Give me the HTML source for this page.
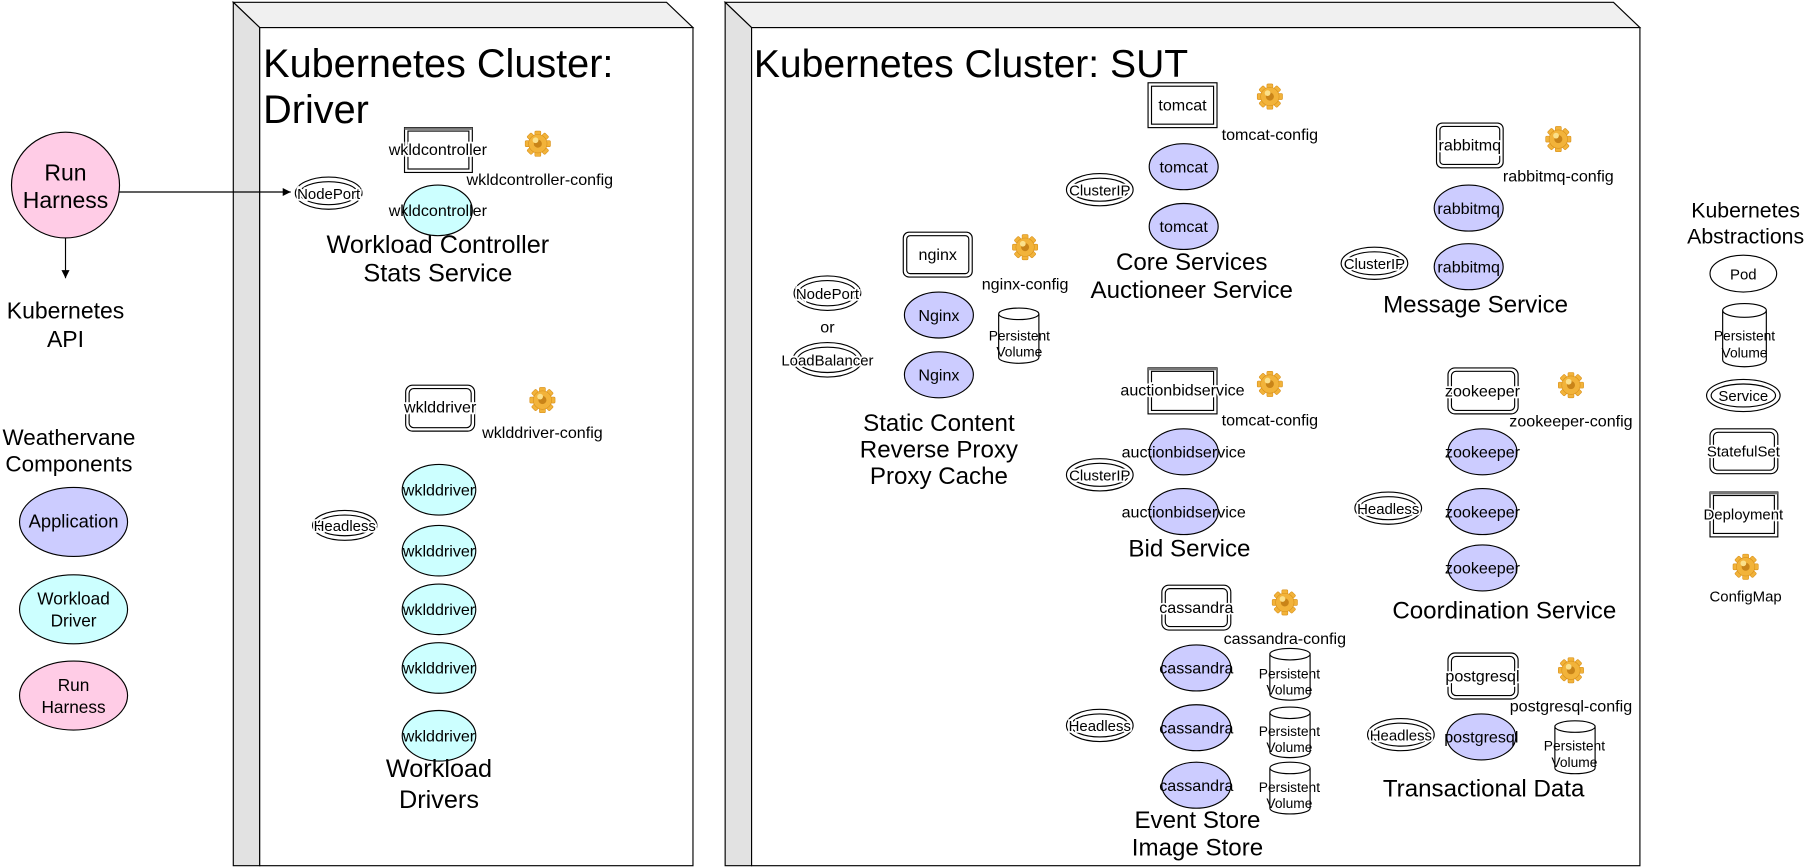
<!DOCTYPE html>
<html><head><meta charset="utf-8"><style>
html,body{margin:0;padding:0;background:#fff;}
svg{display:block;}
text{font-family:"Liberation Sans",Arial,sans-serif;fill:#000;}
.h{stroke:#fff;stroke-width:3;paint-order:stroke;}
</style></head><body>
<svg width="1810" height="868" viewBox="0 0 1575 755" preserveAspectRatio="none" xmlns="http://www.w3.org/2000/svg">
<defs>
<g id="gear">
<g fill="#f2b33a" stroke="#d8901a" stroke-width="0.5">
<rect x="-2.6" y="-11" width="5.2" height="6" rx="1"/>
<rect x="-2.6" y="-11" width="5.2" height="6" rx="1" transform="rotate(45)"/>
<rect x="-2.6" y="-11" width="5.2" height="6" rx="1" transform="rotate(90)"/>
<rect x="-2.6" y="-11" width="5.2" height="6" rx="1" transform="rotate(135)"/>
<rect x="-2.6" y="-11" width="5.2" height="6" rx="1" transform="rotate(180)"/>
<rect x="-2.6" y="-11" width="5.2" height="6" rx="1" transform="rotate(225)"/>
<rect x="-2.6" y="-11" width="5.2" height="6" rx="1" transform="rotate(270)"/>
<rect x="-2.6" y="-11" width="5.2" height="6" rx="1" transform="rotate(315)"/>
<circle r="8"/>
</g>
<circle r="3.5" fill="#c98418"/>
<circle cx="-2" cy="-3" r="2.5" fill="#fbe08a"/>
</g>
<marker id="ar" markerWidth="8" markerHeight="8" refX="7" refY="4" orient="auto" markerUnits="userSpaceOnUse"><path d="M0,0.5 L7,4 L0,7.5 Z" fill="#000"/></marker>
</defs>

<!-- Driver cluster cube -->
<polygon points="203,2 580,2 603,24 226,24" fill="#f0f0f0" stroke="#000" stroke-width="1"/>
<polygon points="203,2 226,24 226,753 203,753" fill="#e2e2e2" stroke="#000" stroke-width="1"/>
<rect x="226" y="24" width="377" height="729" fill="#fff" stroke="#000" stroke-width="1"/>
<!-- SUT cluster cube -->
<polygon points="631,2 1404,2 1427,24 654,24" fill="#f0f0f0" stroke="#000" stroke-width="1"/>
<polygon points="631,2 654,24 654,753 631,753" fill="#e2e2e2" stroke="#000" stroke-width="1"/>
<rect x="654" y="24" width="773" height="729" fill="#fff" stroke="#000" stroke-width="1"/>

<text x="229" y="67" font-size="34.5">Kubernetes Cluster:</text>
<text x="229" y="107" font-size="34.5">Driver</text>
<text x="656" y="67" font-size="34">Kubernetes Cluster: SUT</text>

<!-- Left column -->
<ellipse cx="57" cy="161" rx="47" ry="46" fill="#ffcce6" stroke="#000"/>
<text x="57" y="157" font-size="20" text-anchor="middle">Run</text>
<text x="57" y="181" font-size="20" text-anchor="middle">Harness</text>
<line x1="104" y1="167" x2="253" y2="167" stroke="#000" marker-end="url(#ar)"/>
<line x1="57" y1="207" x2="57" y2="242" stroke="#000" marker-end="url(#ar)"/>
<text x="57" y="277" font-size="20" text-anchor="middle">Kubernetes</text>
<text x="57" y="302" font-size="20" text-anchor="middle">API</text>
<text x="60" y="387" font-size="19.5" text-anchor="middle">Weathervane</text>
<text x="60" y="410" font-size="19.5" text-anchor="middle">Components</text>
<ellipse cx="64" cy="454" rx="47" ry="30" fill="#ccccff" stroke="#000"/>
<text x="64" y="459" font-size="16" text-anchor="middle">Application</text>
<ellipse cx="64" cy="530" rx="47" ry="30" fill="#ccffff" stroke="#000"/>
<text x="64" y="526" font-size="15" text-anchor="middle">Workload</text>
<text x="64" y="545" font-size="15" text-anchor="middle">Driver</text>
<ellipse cx="64" cy="605" rx="47" ry="30" fill="#ffcce6" stroke="#000"/>
<text x="64" y="601" font-size="15" text-anchor="middle">Run</text>
<text x="64" y="620" font-size="15" text-anchor="middle">Harness</text>

<!-- Driver contents -->
<g fill="none" stroke="#000">
<ellipse cx="286" cy="168" rx="29" ry="14"/><ellipse cx="286" cy="168" rx="25" ry="10"/>
<ellipse cx="300" cy="457" rx="28" ry="13"/><ellipse cx="300" cy="457" rx="24" ry="9"/>
<rect x="352" y="111" width="59" height="39"/><rect x="355" y="114" width="53" height="33"/>
<rect x="353" y="335" width="60" height="40" rx="6"/><rect x="356" y="338" width="54" height="34" rx="4"/>
</g>
<line x1="352" y1="112" x2="411" y2="112" stroke="#777" stroke-width="2"/>
<text x="286" y="173" font-size="13" text-anchor="middle" class="h">NodePort</text>
<text x="300" y="462" font-size="13" text-anchor="middle" class="h">Headless</text>
<text x="381" y="135" font-size="14" text-anchor="middle" class="h">wkldcontroller</text>
<text x="383" y="359" font-size="14" text-anchor="middle" class="h">wklddriver</text>
<use href="#gear" x="468" y="125"/>
<text x="406" y="161" font-size="14">wkldcontroller-config</text>
<use href="#gear" x="472" y="348"/>
<text x="472" y="381" font-size="14" text-anchor="middle">wklddriver-config</text>
<ellipse cx="381" cy="183" rx="30" ry="22" fill="#ccffff" stroke="#000"/>
<text x="381" y="188" font-size="14" text-anchor="middle">wkldcontroller</text>
<text x="381" y="220" font-size="22" text-anchor="middle">Workload Controller</text>
<text x="381" y="245" font-size="22" text-anchor="middle">Stats Service</text>
<g fill="#ccffff" stroke="#000">
<ellipse cx="382" cy="426" rx="32" ry="22"/><ellipse cx="382" cy="479" rx="32" ry="22"/>
<ellipse cx="382" cy="530" rx="32" ry="22"/><ellipse cx="382" cy="581" rx="32" ry="22"/>
<ellipse cx="382" cy="640" rx="32" ry="22"/>
</g>
<g font-size="14" text-anchor="middle">
<text x="382" y="431">wklddriver</text><text x="382" y="484">wklddriver</text>
<text x="382" y="535">wklddriver</text><text x="382" y="586">wklddriver</text>
<text x="382" y="645">wklddriver</text>
</g>
<text x="382" y="676" font-size="22" text-anchor="middle">Workload</text>
<text x="382" y="703" font-size="22" text-anchor="middle">Drivers</text>

<!-- SUT services (double ellipses) -->
<g fill="none" stroke="#000">
<ellipse cx="720" cy="255" rx="29" ry="15"/><ellipse cx="720" cy="255" rx="25" ry="11"/>
<ellipse cx="720" cy="313" rx="30" ry="15"/><ellipse cx="720" cy="313" rx="26" ry="11"/>
<ellipse cx="957" cy="165" rx="29" ry="14"/><ellipse cx="957" cy="165" rx="25" ry="10"/>
<ellipse cx="1196" cy="229" rx="29" ry="14"/><ellipse cx="1196" cy="229" rx="25" ry="10"/>
<ellipse cx="957" cy="413" rx="29" ry="14"/><ellipse cx="957" cy="413" rx="25" ry="10"/>
<ellipse cx="1208" cy="442" rx="29" ry="14"/><ellipse cx="1208" cy="442" rx="25" ry="10"/>
<ellipse cx="957" cy="631" rx="29" ry="14"/><ellipse cx="957" cy="631" rx="25" ry="10"/>
<ellipse cx="1219" cy="639" rx="29" ry="14"/><ellipse cx="1219" cy="639" rx="25" ry="10"/>
<!-- boxes -->
<rect x="786" y="202" width="60" height="39" rx="5"/><rect x="789" y="205" width="54" height="33" rx="3"/>
<rect x="999" y="72" width="60" height="39"/><rect x="1002" y="75" width="54" height="33"/>
<rect x="1250" y="107" width="58" height="39" rx="5"/><rect x="1253" y="110" width="52" height="33" rx="3"/>
<rect x="999" y="320" width="60" height="40"/><rect x="1002" y="323" width="54" height="34"/>
<rect x="1260" y="320" width="61" height="40" rx="6"/><rect x="1263" y="323" width="55" height="34" rx="4"/>
<rect x="1011" y="509" width="60" height="39" rx="6"/><rect x="1014" y="512" width="54" height="33" rx="4"/>
<rect x="1260" y="568" width="61" height="40" rx="6"/><rect x="1263" y="571" width="55" height="34" rx="4"/>
</g>
<line x1="999" y1="321" x2="1059" y2="321" stroke="#777" stroke-width="2"/>
<g font-size="13" text-anchor="middle" class="h">
<text x="720" y="260" class="h">NodePort</text>
<text x="720" y="318" class="h">LoadBalancer</text>
<text x="957" y="170" class="h">ClusterIP</text>
<text x="1196" y="234" class="h">ClusterIP</text>
<text x="957" y="418" class="h">ClusterIP</text>
<text x="1208" y="447" class="h">Headless</text>
<text x="957" y="636" class="h">Headless</text>
<text x="1219" y="644" class="h">Headless</text>
</g>
<text x="720" y="289" font-size="14" text-anchor="middle">or</text>
<g font-size="14" text-anchor="middle">
<text x="816" y="226" class="h">nginx</text>
<text x="1029" y="96" class="h">tomcat</text>
<text x="1279" y="131" class="h">rabbitmq</text>
<text x="1029" y="344" class="h">auctionbidservice</text>
<text x="1290" y="345" class="h">zookeeper</text>
<text x="1041" y="533" class="h">cassandra</text>
<text x="1290" y="593" class="h">postgresql</text>
</g>
<!-- gears + config labels -->
<use href="#gear" x="892" y="215"/><use href="#gear" x="1105" y="84"/>
<use href="#gear" x="1356" y="121"/><use href="#gear" x="1105" y="334"/>
<use href="#gear" x="1367" y="335"/><use href="#gear" x="1118" y="524"/>
<use href="#gear" x="1367" y="583"/><use href="#gear" x="1519" y="493"/>
<g font-size="14" text-anchor="middle">
<text x="892" y="252">nginx-config</text>
<text x="1105" y="122">tomcat-config</text>
<text x="1356" y="158">rabbitmq-config</text>
<text x="1105" y="370">tomcat-config</text>
<text x="1367" y="371">zookeeper-config</text>
<text x="1118" y="560">cassandra-config</text>
<text x="1367" y="619">postgresql-config</text>
</g>
<!-- pods -->
<g fill="#ccccff" stroke="#000">
<ellipse cx="817" cy="274" rx="30" ry="20"/><ellipse cx="817" cy="326" rx="30" ry="20"/>
<ellipse cx="1030" cy="145" rx="30" ry="20"/><ellipse cx="1030" cy="197" rx="30" ry="20"/>
<ellipse cx="1278" cy="181" rx="30" ry="20"/><ellipse cx="1278" cy="232" rx="30" ry="20"/>
<ellipse cx="1030" cy="393" rx="30" ry="20"/><ellipse cx="1030" cy="445" rx="30" ry="20"/>
<ellipse cx="1290" cy="393" rx="30" ry="20"/><ellipse cx="1290" cy="445" rx="30" ry="20"/><ellipse cx="1290" cy="494" rx="30" ry="20"/>
<ellipse cx="1041" cy="581" rx="30" ry="20"/><ellipse cx="1041" cy="633" rx="30" ry="20"/><ellipse cx="1041" cy="683" rx="30" ry="20"/>
<ellipse cx="1289" cy="641" rx="30" ry="20"/>
</g>
<g font-size="14" text-anchor="middle">
<text x="817" y="279">Nginx</text><text x="817" y="331">Nginx</text>
<text x="1030" y="150">tomcat</text><text x="1030" y="202">tomcat</text>
<text x="1278" y="186">rabbitmq</text><text x="1278" y="237">rabbitmq</text>
<text x="1030" y="398">auctionbidservice</text><text x="1030" y="450">auctionbidservice</text>
<text x="1290" y="398">zookeeper</text><text x="1290" y="450">zookeeper</text><text x="1290" y="499">zookeeper</text>
<text x="1041" y="586">cassandra</text><text x="1041" y="638">cassandra</text><text x="1041" y="688">cassandra</text>
<text x="1289" y="646">postgresql</text>
</g>
<!-- persistent volumes -->
<g fill="#fff" stroke="#000">
<path d="M869,273 L869,311 A17.5,5 0 0 0 904,311 L904,273 A17.5,5 0 0 0 869,273 A17.5,5 0 0 0 904,273"/>
<path d="M1105,569 L1105,604 A17.5,5 0 0 0 1140,604 L1140,569 A17.5,5 0 0 0 1105,569 A17.5,5 0 0 0 1140,569"/>
<path d="M1105,620 L1105,654 A17.5,5 0 0 0 1140,654 L1140,620 A17.5,5 0 0 0 1105,620 A17.5,5 0 0 0 1140,620"/>
<path d="M1105,668 L1105,703 A17.5,5 0 0 0 1140,703 L1140,668 A17.5,5 0 0 0 1105,668 A17.5,5 0 0 0 1140,668"/>
<path d="M1353,632 L1353,668 A17.5,5 0 0 0 1388,668 L1388,632 A17.5,5 0 0 0 1353,632 A17.5,5 0 0 0 1388,632"/>
<path d="M1499,270 L1499,313 A19,6 0 0 0 1537,313 L1537,270 A19,6 0 0 0 1499,270 A19,6 0 0 0 1537,270"/>
</g>
<g font-size="12" text-anchor="middle">
<text x="887" y="296">Persistent</text><text x="887" y="310">Volume</text>
<text x="1122" y="590">Persistent</text><text x="1122" y="604">Volume</text>
<text x="1122" y="640">Persistent</text><text x="1122" y="654">Volume</text>
<text x="1122" y="689">Persistent</text><text x="1122" y="703">Volume</text>
<text x="1370" y="653">Persistent</text><text x="1370" y="667">Volume</text>
<text x="1518" y="296">Persistent</text><text x="1518" y="311">Volume</text>
</g>
<!-- group labels -->
<g font-size="21" text-anchor="middle">
<text x="817" y="375">Static Content</text>
<text x="817" y="398">Reverse Proxy</text>
<text x="817" y="421">Proxy Cache</text>
<text x="1037" y="235">Core Services</text>
<text x="1037" y="259">Auctioneer Service</text>
<text x="1284" y="272">Message Service</text>
<text x="1035" y="484">Bid Service</text>
<text x="1309" y="538">Coordination Service</text>
<text x="1042" y="720">Event Store</text>
<text x="1042" y="744">Image Store</text>
<text x="1291" y="693">Transactional Data</text>
</g>

<!-- Legend -->
<text x="1519" y="189" font-size="18.5" text-anchor="middle">Kubernetes</text>
<text x="1519" y="212" font-size="18.5" text-anchor="middle">Abstractions</text>
<g fill="none" stroke="#000">
<ellipse cx="1517" cy="238" rx="29" ry="16" fill="#fff"/>
<ellipse cx="1517" cy="344" rx="32" ry="14"/><ellipse cx="1517" cy="344" rx="28" ry="10"/>
<rect x="1488" y="373" width="59" height="39" rx="6"/><rect x="1491" y="376" width="53" height="33" rx="4"/>
<rect x="1488" y="428" width="59" height="39"/><rect x="1491" y="431" width="53" height="33"/>
</g>
<line x1="1488" y1="429" x2="1547" y2="429" stroke="#777" stroke-width="2"/>
<g font-size="13" text-anchor="middle">
<text x="1517" y="243">Pod</text>
<text x="1517" y="349" class="h">Service</text>
<text x="1517" y="397" class="h">StatefulSet</text>
<text x="1517" y="452" class="h">Deployment</text>
<text x="1519" y="523">ConfigMap</text>
</g>
</svg>
</body></html>
